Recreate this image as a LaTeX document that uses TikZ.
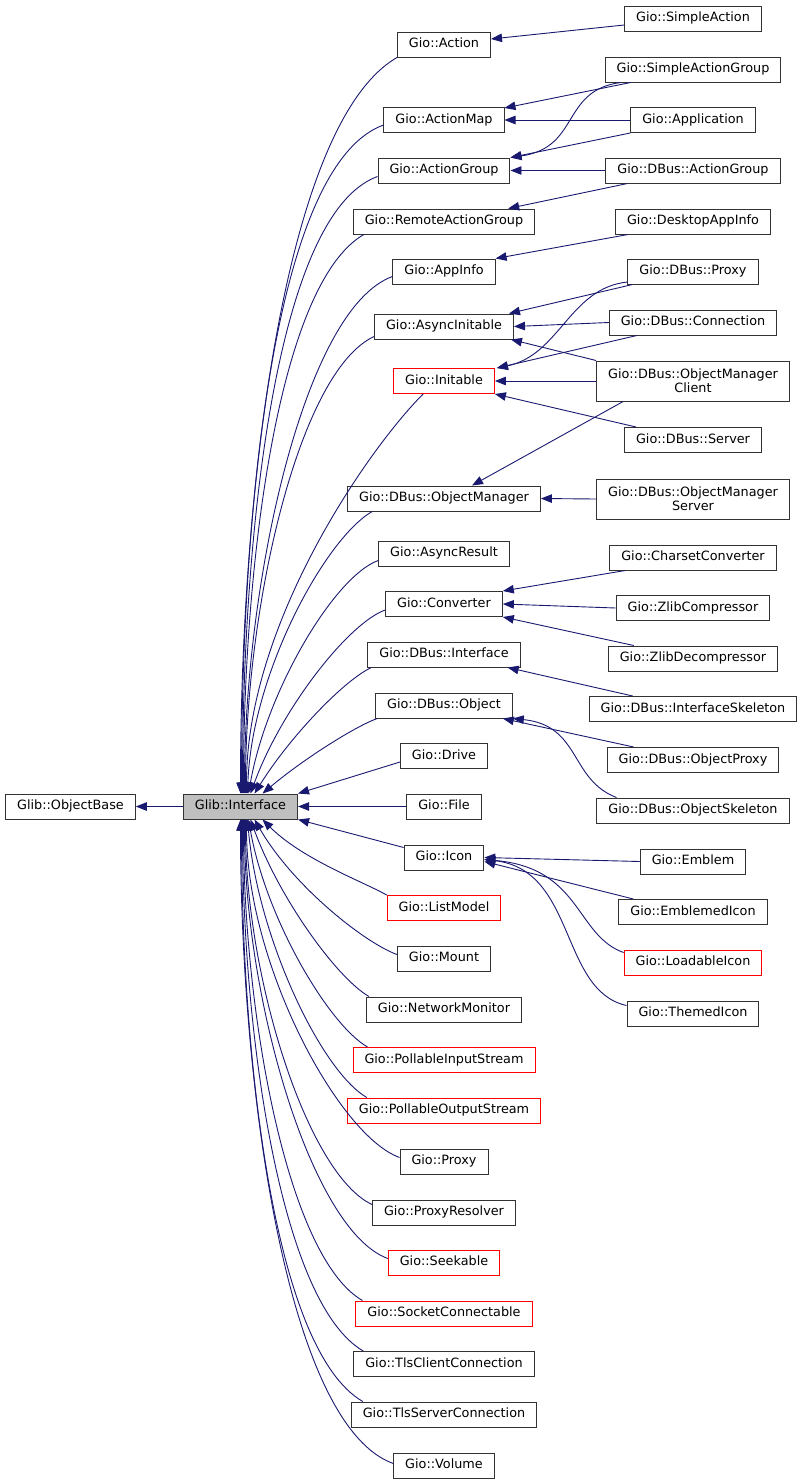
\documentclass[tikz,border=0pt]{standalone}
\usepackage{fontspec}
\setmainfont{DejaVu Sans}
\usetikzlibrary{arrows.meta}
\definecolor{edgeblue}{HTML}{191970}
\definecolor{ifacegray}{HTML}{BFBFBF}
\begin{document}
\begin{tikzpicture}[x=1pt,y=1pt,
	box/.style={draw=black!80, line width=1pt, inner xsep=11.5pt, inner ysep=0pt, minimum height=25pt, font=\fontsize{12.8}{13.6}\selectfont},
	cls/.style={box, text height=9.5pt, text depth=3pt},
	clsred/.style={cls, draw=red},
	clstwo/.style={box, align=center, minimum height=40pt},
	inh/.style={draw=edgeblue, line width=0.9pt, -{Triangle[length=11pt,width=8.5pt]}, out looseness=0.45, in looseness=1.0}]
	\useasboundingbox (0,0) rectangle (803,-1484);
	% base classes
	\node[cls] (obase) at (70.5,-806.5) {Glib::ObjectBase};
	\node[cls, fill=ifacegray] (iface) at (240.5,-806.5) {Glib::Interface};
	% interfaces
	\node[cls] (act) at (444,-44.5) {Gio::Action};
	\node[cls] (amap) at (444,-120) {Gio::ActionMap};
	\node[cls] (agrp) at (444,-170.5) {Gio::ActionGroup};
	\node[cls] (ragrp) at (444,-221.5) {Gio::RemoteActionGroup};
	\node[cls] (ainfo) at (444,-271.5) {Gio::AppInfo};
	\node[cls] (ainit) at (444,-326.5) {Gio::AsyncInitable};
	\node[clsred] (init) at (444,-381) {Gio::Initable};
	\node[cls] (omgr) at (444,-498.5) {Gio::DBus::ObjectManager};
	\node[cls] (ares) at (444,-553.5) {Gio::AsyncResult};
	\node[cls] (conv) at (444,-604) {Gio::Converter};
	\node[cls] (dint) at (444,-654.5) {Gio::DBus::Interface};
	\node[cls] (dobj) at (444,-705.5) {Gio::DBus::Object};
	\node[cls] (drive) at (444,-756) {Gio::Drive};
	\node[cls] (file) at (444,-806.5) {Gio::File};
	\node[cls] (icon) at (444,-857.5) {Gio::Icon};
	\node[clsred] (lmod) at (444,-908) {Gio::ListModel};
	\node[cls] (mount) at (444,-958.5) {Gio::Mount};
	\node[cls] (nmon) at (444,-1009.5) {Gio::NetworkMonitor};
	\node[clsred] (pis) at (444,-1060) {Gio::PollableInputStream};
	\node[clsred] (pos) at (444,-1110.5) {Gio::PollableOutputStream};
	\node[cls] (proxy) at (444,-1161.5) {Gio::Proxy};
	\node[cls] (pres) at (444,-1212.5) {Gio::ProxyResolver};
	\node[clsred] (seek) at (444,-1262.5) {Gio::Seekable};
	\node[clsred] (sockc) at (444,-1313.5) {Gio::SocketConnectable};
	\node[cls] (tlsc) at (444,-1364) {Gio::TlsClientConnection};
	\node[cls] (tlss) at (444,-1414.5) {Gio::TlsServerConnection};
	\node[cls] (vol) at (444,-1465.5) {Gio::Volume};
	% implementations
	\node[cls] (sact) at (693,-18.5) {Gio::SimpleAction};
	\node[cls] (sagrp) at (693,-69.5) {Gio::SimpleActionGroup};
	\node[cls] (app) at (693,-120) {Gio::Application};
	\node[cls] (dagrp) at (693,-170.5) {Gio::DBus::ActionGroup};
	\node[cls] (dai) at (693,-221.5) {Gio::DesktopAppInfo};
	\node[cls] (dproxy) at (693,-271.5) {Gio::DBus::Proxy};
	\node[cls] (dconn) at (693,-322.5) {Gio::DBus::Connection};
	\node[clstwo] (omc) at (693,-381) {Gio::DBus::ObjectManager\\Client};
	\node[cls] (dsrv) at (693,-440) {Gio::DBus::Server};
	\node[clstwo] (oms) at (693,-499) {Gio::DBus::ObjectManager\\Server};
	\node[cls] (csc) at (693,-557.5) {Gio::CharsetConverter};
	\node[cls] (zc) at (693,-608) {Gio::ZlibCompressor};
	\node[cls] (zd) at (693,-658.5) {Gio::ZlibDecompressor};
	\node[cls] (isk) at (693,-709) {Gio::DBus::InterfaceSkeleton};
	\node[cls] (oprx) at (693,-760) {Gio::DBus::ObjectProxy};
	\node[cls] (osk) at (693,-810.5) {Gio::DBus::ObjectSkeleton};
	\node[cls] (emb) at (693,-861.5) {Gio::Emblem};
	\node[cls] (eicon) at (693,-912) {Gio::EmblemedIcon};
	\node[clsred] (licon) at (693,-962.5) {Gio::LoadableIcon};
	\node[cls] (ticon) at (693,-1013.5) {Gio::ThemedIcon};
	% Interface -> ObjectBase
	\draw[inh] (iface.west) -- (obase.east);
	% interfaces above Glib::Interface
	\draw[inh] (act.south west) to[out=210,in=90] ([xshift=0]iface.north);
	\draw[inh] ([yshift=-5]amap.west) to[out=200,in=90] ([xshift=1]iface.north);
	\draw[inh] ([yshift=-6]agrp.west) to[out=200,in=90] ([xshift=2]iface.north);
	\draw[inh] ([xshift=11]ragrp.south west) to[out=210,in=90] ([xshift=3]iface.north);
	\draw[inh] ([yshift=-5]ainfo.west) to[out=200,in=90] ([xshift=4]iface.north);
	\draw[inh] ([yshift=-10]ainit.west) to[out=205,in=90] ([xshift=5]iface.north);
	\draw[inh] ([xshift=30]init.south west) to[out=225,in=90] ([xshift=6]iface.north);
	\draw[inh] ([xshift=25]omgr.south west) to[out=210,in=88] ([xshift=7]iface.north);
	\draw[inh] ([yshift=-7]ares.west) to[out=200,in=80] ([xshift=8]iface.north);
	\draw[inh] ([yshift=-6]conv.west) to[out=200,in=70] ([xshift=10]iface.north);
	\draw[inh] ([xshift=4]dint.south west) to[out=205,in=58] ([xshift=14]iface.north);
	\draw[inh] ([xshift=2]dobj.south west) to[out=200,in=40] ([xshift=22]iface.north);
	% interfaces level with Glib::Interface
	\draw[inh] ([yshift=-6]drive.west) -- (iface.north east);
	\draw[inh] (file.west) -- (iface.east);
	\draw[inh] ([yshift=10]icon.west) -- (iface.south east);
	% interfaces below Glib::Interface
	\draw[inh] (lmod.north west) to[out=150,in=-45] ([xshift=22]iface.south);
	\draw[inh] ([yshift=4]mount.west) to[out=160,in=-60] ([xshift=14]iface.south);
	\draw[inh] ([xshift=3]nmon.north west) to[out=150,in=-70] ([xshift=10]iface.south);
	\draw[inh] ([xshift=15]pis.north west) to[out=150,in=-80] ([xshift=8]iface.south);
	\draw[inh] ([xshift=20]pos.north west) to[out=150,in=-85] ([xshift=7]iface.south);
	\draw[inh] ([yshift=4]proxy.west) to[out=160,in=-90] ([xshift=6]iface.south);
	\draw[inh] ([yshift=8]pres.west) to[out=155,in=-90] ([xshift=5]iface.south);
	\draw[inh] ([yshift=4]seek.west) to[out=160,in=-90] ([xshift=4]iface.south);
	\draw[inh] ([xshift=7]sockc.north west) to[out=150,in=-90] ([xshift=3]iface.south);
	\draw[inh] ([xshift=10]tlsc.north west) to[out=150,in=-90] ([xshift=2]iface.south);
	\draw[inh] ([xshift=12]tlss.north west) to[out=150,in=-90] ([xshift=1]iface.south);
	\draw[inh] ([yshift=2]vol.west) to[out=160,in=-90] ([xshift=0]iface.south);
	% implementations -> interfaces
	\draw[inh] ([yshift=-6.5]sact.west) -- ([yshift=5.5]act.east);
	\draw[inh] ([xshift=26]sagrp.south west) -- ([yshift=-1]amap.north east);
	\draw[inh] ([xshift=16]sagrp.south west) .. controls +(-60,-8) and +(70,10) .. (agrp.north east);
	\draw[inh] (app.west) -- (amap.east);
	\draw[inh] (app.south west) -- (agrp.north east);
	\draw[inh] (dagrp.west) -- (agrp.east);
	\draw[inh] ([xshift=22]dagrp.south west) -- ([xshift=-27]ragrp.north east);
	\draw[inh] ([xshift=13]dai.south west) -- (ainfo.north east);
	\draw[inh] ([xshift=5]dproxy.south west) -- ([xshift=-5]ainit.north east);
	\draw[inh] ([yshift=-10.5]dproxy.west) .. controls +(-58,-6) and +(63,13) .. ([xshift=2]init.north east);
	\draw[inh] (dconn.west) -- (ainit.east);
	\draw[inh] ([xshift=28]dconn.south west) -- ([xshift=2]init.north east);
	\draw[inh] (omc.north west) -- ([xshift=-3]ainit.south east);
	\draw[inh] (omc.west) -- (init.east);
	\draw[inh] ([xshift=27]omc.south west) -- ([xshift=28]omgr.north);
	\draw[inh] ([xshift=12]dsrv.north west) -- (init.south east);
	\draw[inh] (oms.west) -- (omgr.east);
	\draw[inh] ([xshift=16]csc.south west) -- (conv.north east);
	\draw[inh] (zc.west) -- (conv.east);
	\draw[inh] ([xshift=26]zd.north west) -- (conv.south east);
	\draw[inh] ([xshift=44]isk.north west) -- ([xshift=-13]dint.south east);
	\draw[inh] ([xshift=27]oprx.north west) -- ([xshift=-10]dobj.south east);
	\draw[inh] ([xshift=20]osk.north west) .. controls +(-47,18) and +(68,-7) .. (dobj.south east);
	\draw[inh] (emb.west) -- (icon.east);
	\draw[inh] ([xshift=15]eicon.north west) -- ([yshift=-4]icon.east);
	\draw[inh] ([yshift=10]licon.west) .. controls +(-48,17) and +(97,-8.5) .. ([yshift=-2]icon.east);
	\draw[inh] ([yshift=8]ticon.west) .. controls +(-67,15) and +(92,-10.5) .. ([yshift=-2]icon.east);
\end{tikzpicture}
\end{document}
